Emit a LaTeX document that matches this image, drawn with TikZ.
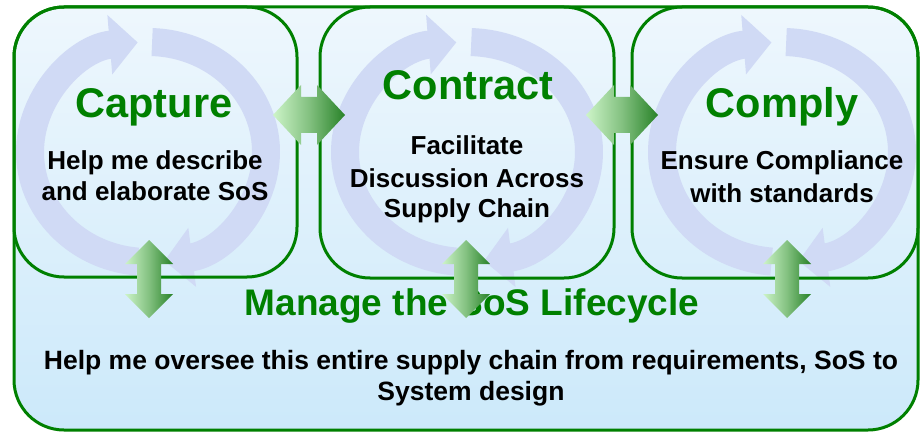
\documentclass[tikz,border=0pt]{standalone}
\usepackage{fontspec}
\setmainfont{Liberation Sans}
\usetikzlibrary{arrows.meta}
\definecolor{lgreen}{RGB}{0,128,0}
\definecolor{bgtop}{RGB}{238,247,253}
\definecolor{bgbot}{RGB}{204,233,250}
\definecolor{ringc}{RGB}{208,218,245}
\definecolor{arrowlight}{RGB}{205,244,200}
\definecolor{arrowdark}{RGB}{40,130,40}
\tikzset{
  boxline/.style={draw=lgreen, line width=3pt, rounded corners=50pt},
  ring/.style={draw=ringc, line width=28pt, -{Triangle[length=28pt,width=58pt]}},
  titletext/.style={font=\fontsize{41.5}{41.5}\selectfont\bfseries, text=lgreen, anchor=base, inner sep=0pt},
  subtext/.style={font=\fontsize{26}{26}\selectfont\bfseries, text=black, anchor=base, inner sep=0pt},
  bottext/.style={font=\fontsize{26.5}{26.5}\selectfont\bfseries, text=black, anchor=base, inner sep=0pt},
  mantext/.style={font=\fontsize{37}{37}\selectfont\bfseries, text=lgreen, anchor=base, inner sep=0pt},
  arrowshade/.style={left color=arrowlight, right color=arrowdark, middle color=arrowlight!55!arrowdark}
}
\begin{document}
\begin{tikzpicture}[x=1pt,y=1pt]
\useasboundingbox (0,0) rectangle (921,432);
% outer box
\shade[top color=bgtop, bottom color=bgbot, rounded corners=50pt] (14,2) rectangle (918,425);
\draw[boxline] (14,2) rectangle (918,425);
% circular arrows
\foreach \cx/\rx in {148/118, 467/122, 782/120}{
  \draw[ring] ([shift={(265:\rx pt and 110pt)}]\cx,280) arc[start angle=265, end angle=95, x radius=\rx pt, y radius=110pt];
  \draw[ring] ([shift={(88:\rx pt and 110pt)}]\cx,280) arc[start angle=88, end angle=-82, x radius=\rx pt, y radius=110pt];
}
% inner boxes
\draw[boxline] (14,155) rectangle (297,425);
\draw[boxline] (320,154) rectangle (614,425);
\draw[boxline] (632,154) rectangle (918,425);
% texts
\node[titletext] (capt) at (154,315) {Capture};
\node[subtext] (capa) at (155,262) {Help me describe};
\node[subtext] (capb) at (155,232) {and elaborate SoS};
\node[titletext] (cont) at (468,332) {Contract};
\node[subtext] (cona) at (467,278) {Facilitate};
\node[subtext] (conb) at (467,245) {Discussion Across};
\node[subtext] (conc) at (467,215) {Supply Chain};
\node[titletext] (comt) at (782,314) {Comply};
\node[subtext] (coma) at (782,262) {Ensure Compliance};
\node[subtext] (comb) at (782,230) {with standards};
\node[mantext] (mant) at (472,117) {Manage the SoS Lifecycle};
\node[bottext] (mana) at (471,63) {Help me oversee this entire supply chain from requirements, SoS to};
\node[bottext] (manb) at (471,32) {System design};
% double arrows
\coordinate (hA) at (309,317);
\coordinate (hB) at (622,317);
\coordinate (vA) at (149,153);
\coordinate (vB) at (466,153);
\coordinate (vC) at (787,153);
\foreach \p in {hA,hB}{
  \shade[arrowshade, shift={(\p)}] (-36,0) -- (-8,30) -- (-8,18) -- (8,18) -- (8,30) -- (36,0)
     -- (8,-30) -- (8,-18) -- (-8,-18) -- (-8,-30) -- cycle;
}
\foreach \p in {vA,vB,vC}{
  \shade[arrowshade, shift={(\p)}] (0,39) -- (24,15) -- (12,15) -- (12,-15) -- (24,-15) -- (0,-39)
     -- (-24,-15) -- (-12,-15) -- (-12,15) -- (-24,15) -- cycle;
}
\end{tikzpicture}
\end{document}
